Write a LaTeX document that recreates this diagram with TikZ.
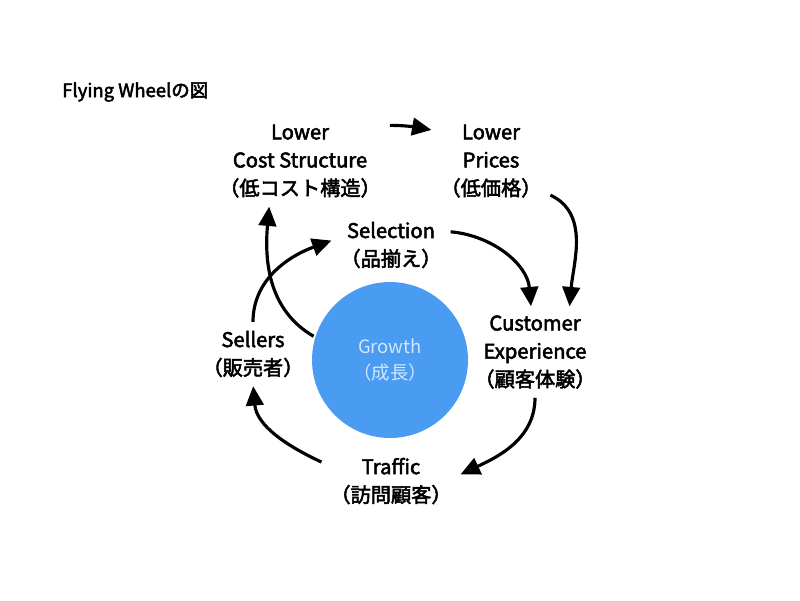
\documentclass[tikz,border=0pt]{standalone}
\usepackage{fontspec}
\setmainfont{Noto Sans CJK JP}
\newfontfamily\medfont[FakeBold=2.6]{Noto Sans CJK JP}
\usetikzlibrary{arrows.meta,positioning}
\definecolor{growthblue}{HTML}{4A9CF2}
\definecolor{growthtext}{HTML}{D4E6FB}

\begin{document}
\begin{tikzpicture}[x=0.02cm,y=-0.02cm,
  lbl/.style={align=center,font=\fontsize{11.5}{16}\medfont,inner sep=4pt},
  flow/.style={line width=1.8pt,-{Triangle[length=11pt,width=10pt]},shorten >=1pt,shorten <=1pt}]
 \useasboundingbox (0,0) rectangle (800,600);
 \node[anchor=west,inner sep=0,font=\fontsize{10.5}{12}\medfont] (title) at (62,92) {Flying Wheelの図};
 \node[circle,fill=growthblue,minimum size=3.12cm,inner sep=0,align=center,text=growthtext,
   font=\fontsize{10.5}{15}\selectfont] (growth) at (390,360) {Growth\\（成長）};
 \node[lbl] (lcs) at (300,161) {Lower\\Cost Structure\\（低コスト構造）};
 \node[lbl] (lp) at (491,161) {Lower\\Prices\\（低価格）};
 \node[lbl] (sel) at (391,245) {Selection\\（品揃え）};
 \node[lbl] (ce) at (535,352) {Customer\\Experience\\（顧客体験）};
 \node[lbl] (sellers) at (253,354) {Sellers\\（販売者）};
 \node[lbl] (traffic) at (391,481) {Traffic\\（訪問顧客）};

 \draw[flow] (lcs.22) to[out=0,in=170] (lp.152);
 \draw[flow] (lp.-30) to[out=-25,in=85] (ce.52);
 \draw[flow] (sel.13) to[out=-5,in=95] (ce.95);
 \draw[flow] (ce.south) to[out=-90,in=25] (traffic.5);
 \draw[flow] (traffic.165) to[out=155,in=-85] (sellers.south);
 \draw[flow] (sellers.north) to[out=90,in=200] (sel.175);
 \draw[flow] (growth.163) to[out=150,in=-95] (lcs.235);
\end{tikzpicture}
\end{document}
